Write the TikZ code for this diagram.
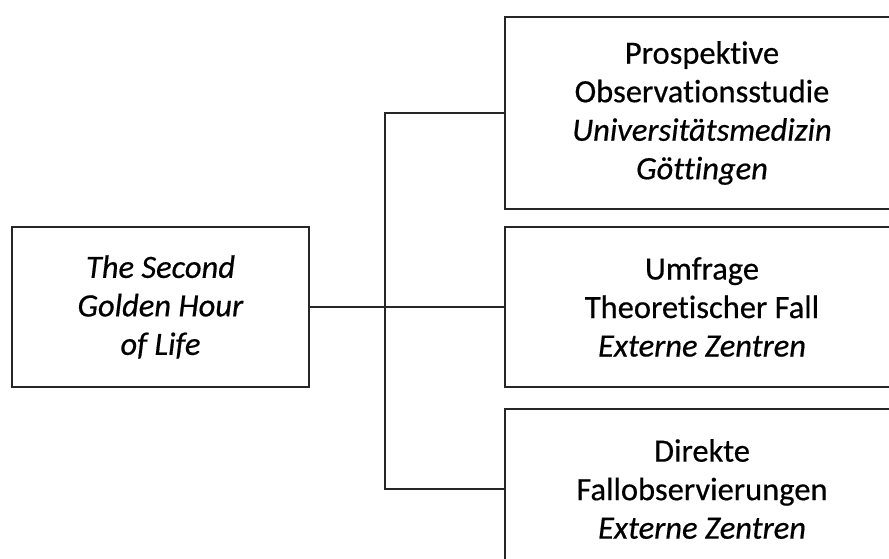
\documentclass[tikz,border=0pt]{standalone}
\usepackage{fontspec}
\setmainfont{Carlito}[Ligatures={NoCommon}, FakeBold=0.5,
  ItalicFeatures={FakeBold=0.5}]
\begin{document}
\begin{tikzpicture}[x=1pt,y=1pt,
  box/.style={draw=black!85, line width=1.6pt, rectangle, align=center,
    inner sep=0pt, font=\fontsize{32.5}{38.5}\selectfont},
  leftbox/.style={box, minimum width=297pt, minimum height=160pt},
  rightbox/.style={box, minimum width=394pt},
  link/.style={draw=black!85, line width=1.3pt}]
  \useasboundingbox (0,0) rectangle (889,559);
  \clip (0,0) rectangle (889,559);
  \fill[white] (0,0) rectangle (889,559);

  % root node
  \node[leftbox] (root) at (160.5,252) {\textit{The Second}\\\textit{Golden Hour}\\\textit{of Life}};

  % branches
  \node[rightbox, minimum height=192pt] (b1) at (702,446)
    {Prospektive\\Observationsstudie\\\textit{Universitätsmedizin}\\\textit{Göttingen}};
  \node[rightbox, minimum height=160pt] (b2) at (702,252)
    {Umfrage\\Theoretischer Fall\\\textit{Externe Zentren}};
  \node[rightbox, minimum height=160pt] (b3) at (702,70)
    {Direkte\\Fallobservierungen\\\textit{Externe Zentren}};

  % tree connectors
  \coordinate (trunk) at (385,252);
  \draw[link] (root.east) -- (b2.west);
  \draw[link] (b1.west) -- (b1.west -| trunk) -- (b3.west -| trunk) -- (b3.west);
\end{tikzpicture}
\end{document}
